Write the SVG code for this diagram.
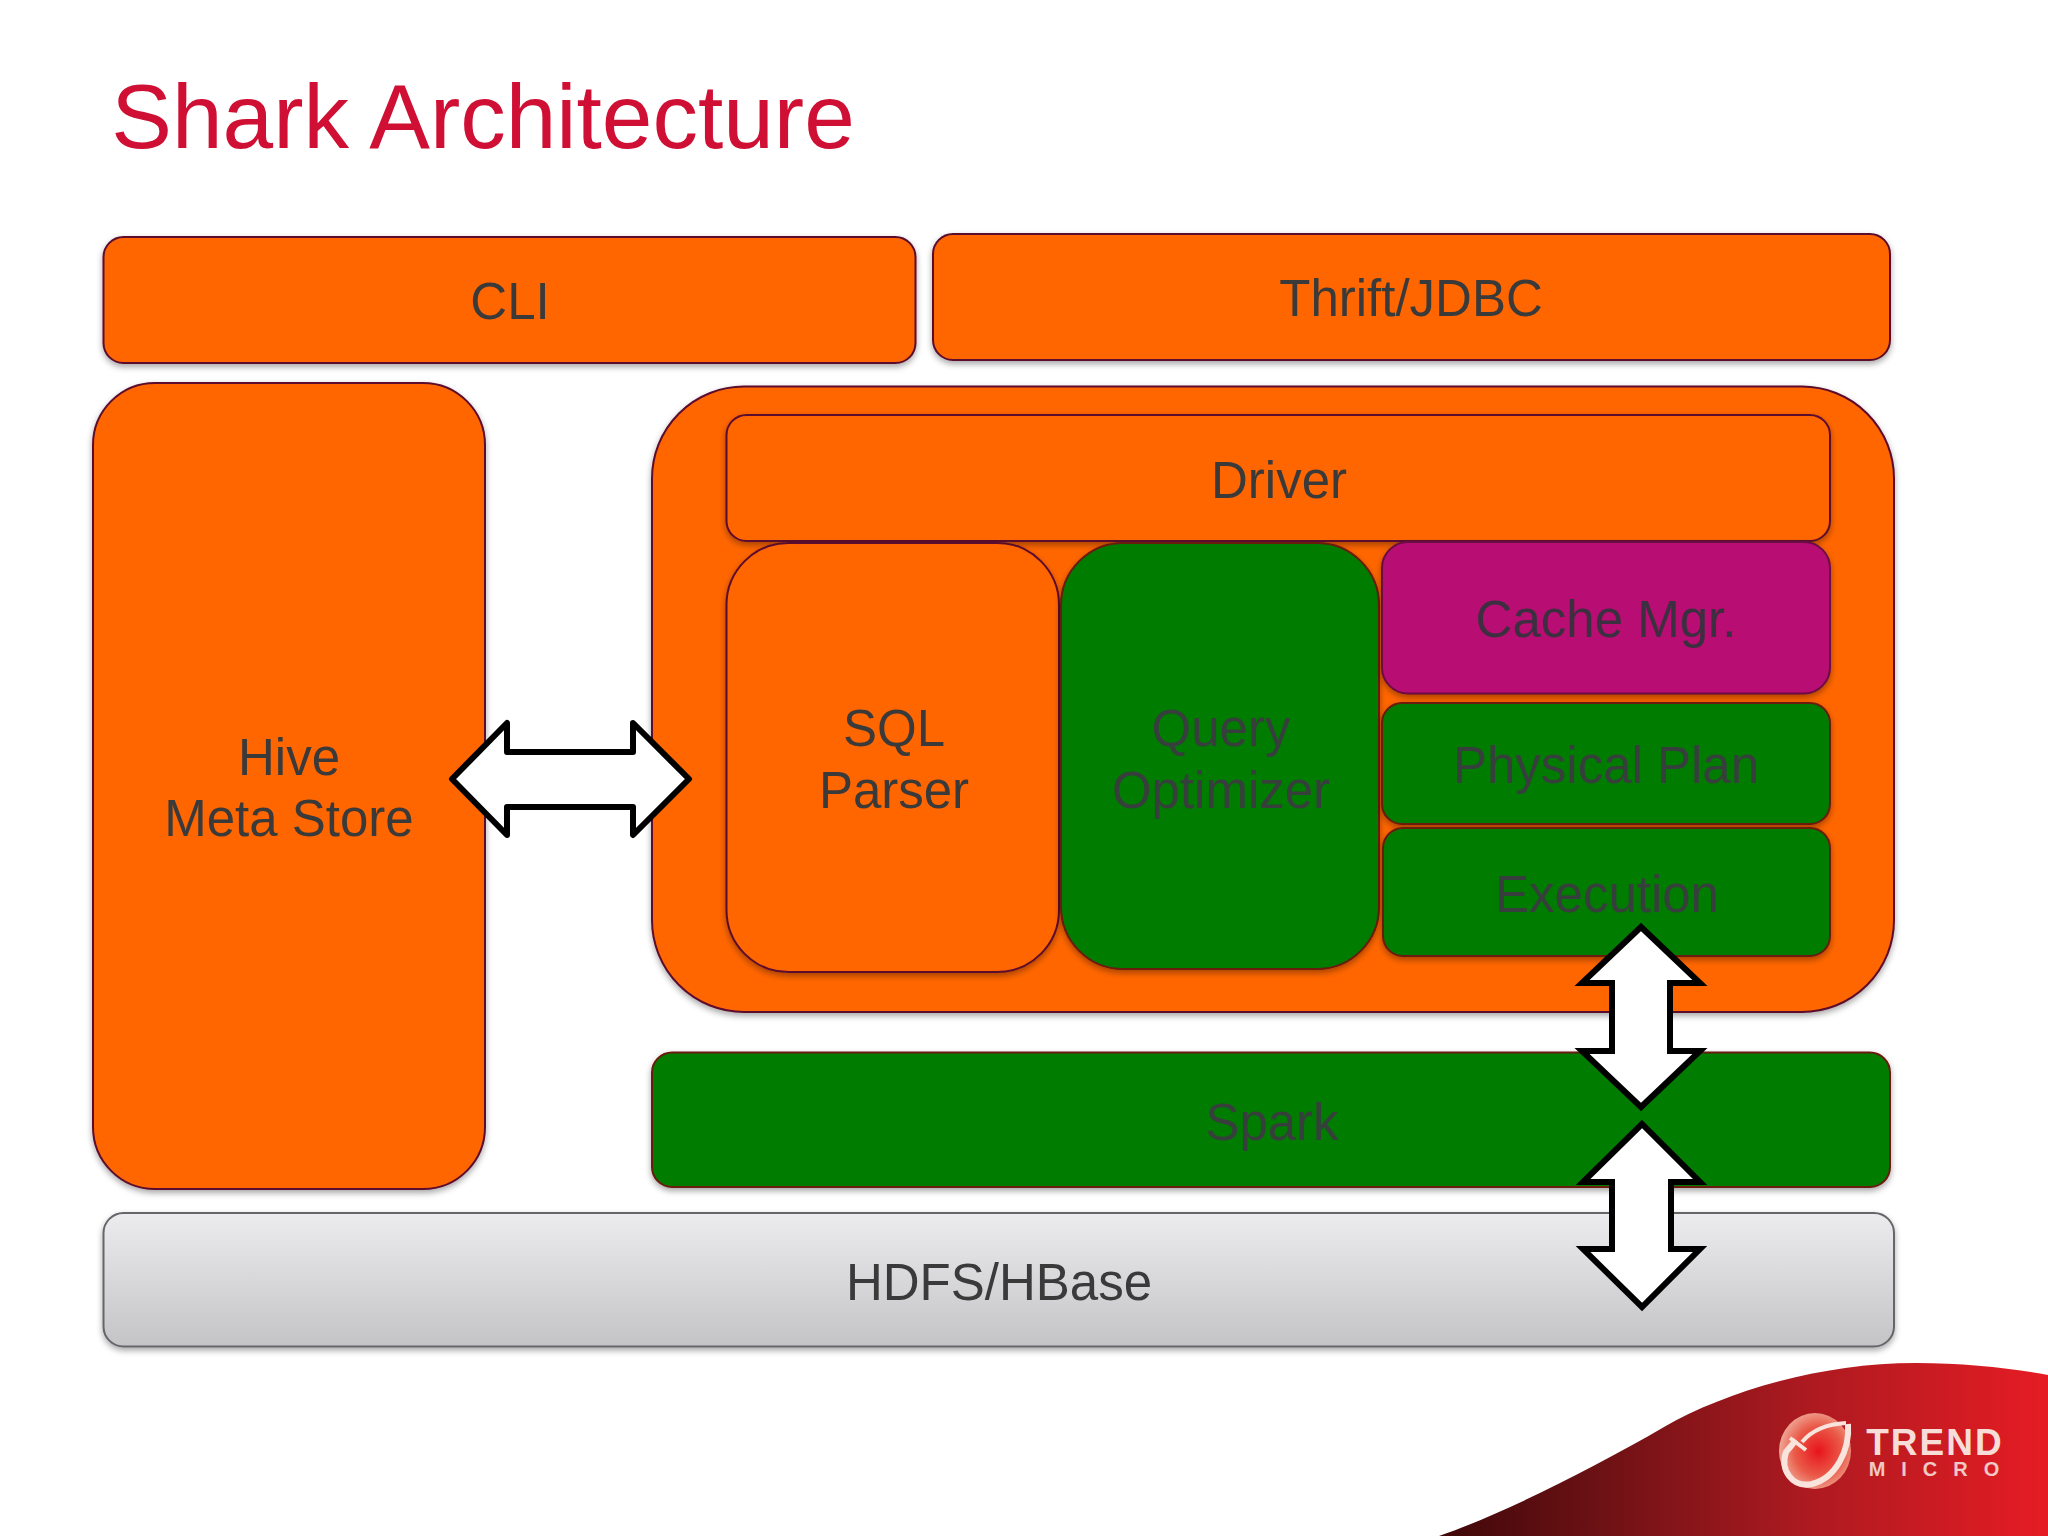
<svg xmlns="http://www.w3.org/2000/svg" width="2048" height="1536" viewBox="0 0 2048 1536">
<style>
text{font-family:"Liberation Sans",Arial,sans-serif;font-size:51px;text-anchor:middle;fill:#3a3a3a}
.or,.gr,.cm,.hd{filter:url(#sh);stroke-width:2}
.or{fill:#ff6600;stroke:#5c0b2e}
.gr{fill:#037b00;stroke:#6b1a10}
.cm{fill:#b80f72;stroke:#6b0b45}
.hd{fill:url(#hdg);stroke:#66666a}
.ong{fill:#363f3c}
.onm{fill:#3c3040}
.v{fill:#fff;stroke:#000;stroke-width:6;stroke-linejoin:miter}
.h{fill:#fff;stroke:#000;stroke-width:6;stroke-linejoin:round}
</style>
<defs>
<filter id="sh" x="-5%" y="-5%" width="110%" height="115%"><feDropShadow dx="0" dy="3" stdDeviation="3" flood-color="#000" flood-opacity=".35"/></filter>
<linearGradient id="hdg" x1="0" y1="0" x2="0" y2="1"><stop offset="0" stop-color="#ececee"/><stop offset="1" stop-color="#c4c4c7"/></linearGradient>
<linearGradient id="sw" x1="0" y1="0" x2="1" y2="0"><stop offset="0" stop-color="#3e0709"/><stop offset=".25" stop-color="#6a1114"/><stop offset=".6" stop-color="#ac1a20"/><stop offset="1" stop-color="#e61c24"/></linearGradient>
<radialGradient id="ball" cx=".55" cy=".5" r=".6"><stop offset="0" stop-color="#e8141c"/><stop offset=".55" stop-color="#ea5a48"/><stop offset="1" stop-color="#f0b8a8"/></radialGradient>
</defs>
<rect width="2048" height="1536" fill="#fff"/>
<text id="title" x="483" y="148" style="font-size:91px;fill:#cf0f33">Shark Architecture</text>
<g id="cli"><rect class="or" x="103.500" y="237" width="812" height="126" rx="20"/><text x="510" y="319">CLI</text></g>
<g id="thrift"><rect class="or" x="933" y="234" width="957" height="126" rx="20"/><text x="1411" y="316">Thrift/JDBC</text></g>
<g id="hive"><rect class="or" x="93" y="383" width="392" height="806" rx="62"/><text x="289" y="775">Hive</text><text x="289" y="836">Meta Store</text></g>
<g id="shark"><rect class="or" x="652" y="386.500" width="1242" height="625.500" rx="92"/></g>
<g id="driver"><rect class="or" x="726.500" y="415" width="1103.500" height="126" rx="20"/><text x="1279" y="498">Driver</text></g>
<g id="sql"><rect class="or" x="726.500" y="543" width="332.500" height="429" rx="62"/><text x="894" y="746">SQL</text><text x="894" y="808">Parser</text></g>
<g id="query"><rect class="gr" x="1061" y="543" width="318" height="426" rx="62"/><text class="ong" x="1221" y="746">Query</text><text class="ong" x="1221" y="808">Optimizer</text></g>
<g id="cache"><rect class="cm" x="1382" y="542" width="448" height="151.500" rx="26"/><text class="onm" x="1606" y="637">Cache Mgr.</text></g>
<g id="physical"><rect class="gr" x="1382" y="703" width="448" height="121" rx="20"/><text class="ong" x="1606" y="783">Physical Plan</text></g>
<g id="execution"><rect class="gr" x="1383" y="828" width="447" height="128" rx="20"/><text class="ong" x="1607" y="912">Execution</text></g>
<g id="spark"><rect class="gr" x="652" y="1052.500" width="1238" height="134.500" rx="20"/><text class="ong" x="1272" y="1140">Spark</text></g>
<g id="hdfs"><rect class="hd" x="103.500" y="1213" width="1790.500" height="133.500" rx="20"/><text x="999" y="1300">HDFS/HBase</text></g>
<g id="connectors">
<polygon class="h" points="452,779 507,723 507,752 633,752 633,723 689,779 633,835 633,807 507,807 507,835"/>
<polygon class="v" points="1641,927 1700,983 1670,983 1670,1051 1700,1051 1641,1107 1582,1051 1612,1051 1612,983 1582,983"/>
<polygon class="v" points="1642,1124 1700,1182 1671,1182 1671,1249 1700,1249 1642,1307 1583,1249 1612,1249 1612,1182 1583,1182"/>
</g>
<g id="logo">
<path d="M1439,1536C1500,1515 1590,1470 1664,1427C1725,1392 1820,1363 1916,1363C1965,1363 2010,1368 2048,1375V1536Z" fill="url(#sw)"/>
<ellipse cx="1815" cy="1451" rx="36" ry="38" fill="url(#ball)"/>
<path d="M1848,1424C1850,1450 1836,1478 1812,1484C1792,1488 1780,1470 1786,1452L1796,1440" fill="none" stroke="#f8e4dc" stroke-width="6"/>
<path d="M1790,1438L1806,1450M1802,1442C1812,1430 1828,1424 1846,1423" fill="none" stroke="#f8e4dc" stroke-width="4"/>
<text x="1935" y="1455" style="font-size:37px;font-weight:bold;fill:#f7dcd8;letter-spacing:2px">TREND</text>
<text x="1942" y="1476" style="font-size:20px;font-weight:bold;fill:#f0c8c4;letter-spacing:16px">MICRO</text>
</g>
</svg>
